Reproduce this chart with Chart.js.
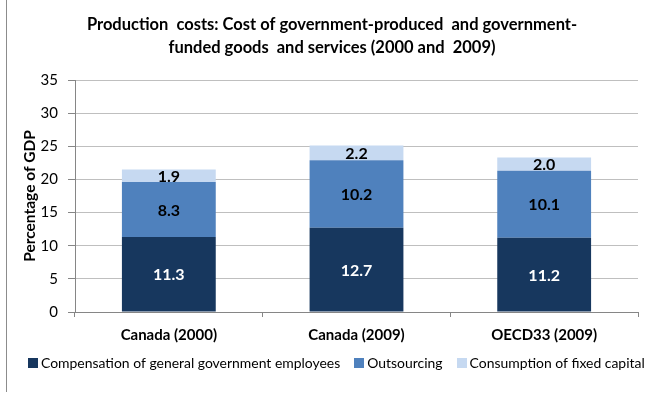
<!DOCTYPE html>
<html>
<head>
<meta charset="utf-8">
<script src="https://cdn.jsdelivr.net/npm/chart.js@4/dist/chart.umd.min.js"></script>
<style>
  html, body { margin: 0; padding: 0; background: #ffffff; }
  #wrap { position: relative; width: 650px; height: 394px; }
</style>
</head>
<body>
<div id="wrap"><canvas id="chart" width="650" height="394"></canvas></div>
<script>
// Categories and stacked series (percentage of GDP)
const categories = ['Canada (2000)', 'Canada (2009)', 'OECD33 (2009)'];
const compensation = [11.3, 12.7, 11.2];
const outsourcing = [8.3, 10.2, 10.1];
const fixedCapital = [1.9, 2.2, 2.0];
const seriesNames = ['Compensation of general government employees', 'Outsourcing', 'Consumption of fixed capital'];
const titleLines = ['Production  costs: Cost of government-produced  and government-', 'funded goods  and services (2000 and  2009)'];
const yTitle = 'Percentage of GDP';

const FONT = 'Lato, "Open Sans", sans-serif';

// Writes each segment's value in the middle of its bar piece
const valueLabels = {
  id: 'valueLabels',
  afterDatasetsDraw(chart) {
    const ctx = chart.ctx;
    ctx.save();
    ctx.font = 'bold 16px ' + FONT;
    ctx.textAlign = 'center';
    ctx.textBaseline = 'middle';
    chart.data.datasets.forEach((ds, di) => {
      const meta = chart.getDatasetMeta(di);
      meta.data.forEach((bar, i) => {
        ctx.fillStyle = ds.labelColor;
        const y = (bar.y + bar.base) / 2;
        ctx.fillText(ds.data[i].toFixed(1), bar.x, y + 1);
      });
    });
    ctx.restore();
  }
};

// Left edge rule of the chart frame
const frameLine = {
  id: 'frameLine',
  beforeDraw(chart) {
    const ctx = chart.ctx;
    ctx.save();
    ctx.strokeStyle = '#8c8c8c';
    ctx.lineWidth = 1;
    ctx.beginPath();
    ctx.moveTo(6.5, 0);
    ctx.lineTo(6.5, 392);
    ctx.stroke();
    ctx.restore();
  }
};

// Single-row legend under the category labels: square swatch, small gap, series name.
// The font size is fitted so the whole row spans from opts.left to opts.right.
const rowLegend = {
  id: 'rowLegend',
  afterDraw(chart, args, opts) {
    const ctx = chart.ctx;
    const items = chart.data.datasets.map(ds => ({ text: ds.label, color: ds.backgroundColor }));
    const box = opts.box, gap = opts.gap, spacing = opts.spacing;
    ctx.save();
    ctx.font = '20px ' + FONT;
    const textAt20 = items.reduce((a, it) => a + ctx.measureText(it.text).width, 0);
    const fixed = items.length * (box + gap) + spacing * (items.length - 1);
    const size = Math.min(opts.maxSize, 20 * (opts.right - opts.left - fixed) / textAt20);
    ctx.font = size + 'px ' + FONT;
    const widths = items.map(it => ctx.measureText(it.text).width);
    let x = opts.left;
    const y = chart.scales.x.bottom + opts.offset;
    ctx.textBaseline = 'middle';
    ctx.textAlign = 'left';
    items.forEach((it, i) => {
      ctx.fillStyle = it.color;
      ctx.fillRect(Math.round(x), Math.round(y - box / 2), box, box);
      ctx.fillStyle = '#000000';
      ctx.fillText(it.text, x + box + gap, y + 0.5);
      x += box + gap + widths[i] + spacing;
    });
    ctx.restore();
  }
};

new Chart(document.getElementById('chart'), {
  type: 'bar',
  data: {
    labels: categories,
    datasets: [
      { label: seriesNames[0], data: compensation, backgroundColor: '#17375E', labelColor: '#ffffff', borderWidth: 0 },
      { label: seriesNames[1], data: outsourcing, backgroundColor: '#4F81BD', labelColor: '#000000', borderWidth: 0 },
      { label: seriesNames[2], data: fixedCapital, backgroundColor: '#C6D9F1', labelColor: '#000000', borderWidth: 0 }
    ]
  },
  options: {
    responsive: false,
    animation: false,
    devicePixelRatio: 1,
    layout: { padding: { left: 26, right: 12, top: 0, bottom: 46 } },
    datasets: { bar: { categoryPercentage: 1, barPercentage: 0.5 } },
    plugins: {
      title: {
        display: true,
        text: titleLines,
        color: '#000000',
        font: { family: FONT, size: 16.5, weight: 'bold', lineHeight: '23px' },
        padding: { top: 13, bottom: 21 }
      },
      legend: { display: false },
      rowLegend: { maxSize: 15, box: 10, gap: 3, spacing: 14, left: 28, right: 645, offset: 15 },
      tooltip: { enabled: false }
    },
    scales: {
      x: {
        stacked: true,
        grid: { display: true, drawOnChartArea: false, offset: true, tickLength: 5, color: '#868686', tickColor: '#868686' },
        border: { color: '#868686', width: 1 },
        ticks: { color: '#000000', font: { family: FONT, size: 15, weight: 'bold' }, padding: 9 },
        afterFit(scale) { scale.height = 36; }
      },
      y: {
        stacked: true,
        min: 0,
        max: 35,
        ticks: { stepSize: 5, color: '#000000', font: { family: FONT, size: 15 }, padding: 10 },
        grid: { color: '#BFBFBF', tickLength: 7, tickColor: '#868686' },
        border: { color: '#868686', width: 1 },
        title: {
          display: true,
          text: yTitle,
          color: '#000000',
          font: { family: FONT, size: 15.5, weight: 'bold' },
          padding: { top: -5, bottom: 0 }
        },
        afterFit(scale) { scale.width = 49; }
      }
    }
  },
  plugins: [valueLabels, frameLine, rowLegend]
});
</script>
</body>
</html>
